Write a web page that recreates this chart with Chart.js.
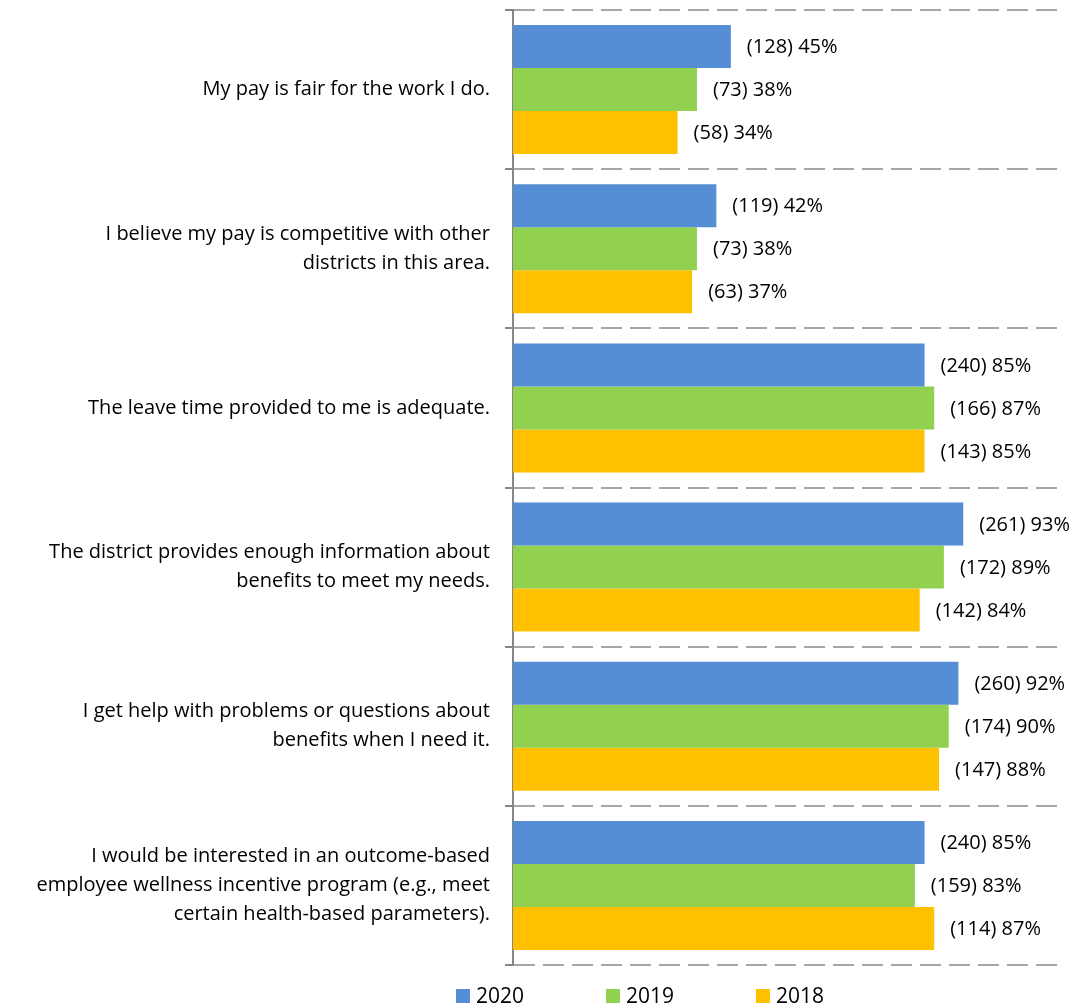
<!DOCTYPE html>
<html>
<head>
<meta charset="utf-8">
<script src="https://cdn.jsdelivr.net/npm/chart.js@4/dist/chart.umd.min.js"></script>
<style>
  html, body { margin: 0; padding: 0; background: #fff; }
  #wrap { width: 1076px; height: 1007px; }
</style>
</head>
<body>
<div id="wrap"><canvas id="benefits"></canvas></div>
<script>
var categories = [
  'My pay is fair for the work I do.',
  ['I believe my pay is competitive with other', 'districts in this area.'],
  'The leave time provided to me is adequate.',
  ['The district provides enough information about', 'benefits to meet my needs.'],
  ['I get help with problems or questions about', 'benefits when I need it.'],
  ['I would be interested in an outcome-based', 'employee wellness incentive program (e.g., meet', 'certain health-based parameters).']
]
var years = ['2020', '2019', '2018']

// percent agreeing, and number of respondents behind it
var pct2020 = [45, 42, 85, 93, 92, 85]
var pct2019 = [38, 38, 87, 89, 90, 83]
var pct2018 = [34, 37, 85, 84, 88, 87]
var n2020 = [128, 119, 240, 261, 260, 240]
var n2019 = [73, 73, 166, 172, 174, 159]
var n2018 = [58, 63, 143, 142, 147, 114]

var colors = ['#558ED5', '#92D050', '#FFC000']
var fontFamily = '"Open Sans"'

Chart.defaults.font.family = fontFamily
Chart.defaults.font.size = 20
Chart.defaults.color = '#000'

// "(n) pct%" written just past the end of each bar
var barLabels = {
  id: 'barLabels',
  afterDatasetsDraw: function (chart) {
    var ctx = chart.ctx
    ctx.save()
    ctx.font = '20px ' + fontFamily
    ctx.fillStyle = '#000'
    ctx.textAlign = 'left'
    ctx.textBaseline = 'middle'
    chart.data.datasets.forEach(function (ds, di) {
      chart.getDatasetMeta(di).data.forEach(function (bar, i) {
        ctx.fillText('(' + ds.counts[i] + ') ' + ds.data[i] + '%', bar.x + 16, bar.y + 1)
      })
    })
    ctx.restore()
  }
}

// legend row under the plot, squares spaced wide apart
var wideLegend = {
  id: 'wideLegend',
  afterDraw: function (chart) {
    var ctx = chart.ctx
    var area = chart.chartArea
    var x = area.left - 57
    var y = area.bottom + 31
    ctx.save()
    ctx.font = '21px ' + fontFamily
    ctx.textAlign = 'left'
    ctx.textBaseline = 'middle'
    chart.data.datasets.forEach(function (ds) {
      ctx.fillStyle = ds.backgroundColor
      ctx.fillRect(x, y - 7, 14, 14)
      ctx.fillStyle = '#000'
      ctx.fillText(ds.label, x + 20, y + 1)
      x += 150
    })
    ctx.restore()
  }
}

var canvas = document.getElementById('benefits')
var ctx = canvas.getContext('2d')

new Chart(ctx, {
  type: 'bar',
  data: {
    labels: categories,
    datasets: [
      { label: years[0], data: pct2020, counts: n2020, backgroundColor: colors[0] },
      { label: years[1], data: pct2019, counts: n2019, backgroundColor: colors[1] },
      { label: years[2], data: pct2018, counts: n2018, backgroundColor: colors[2] }
    ]
  },
  plugins: [barLabels, wideLegend],
  options: {
    indexAxis: 'y',
    responsive: true,
    maintainAspectRatio: false,
    animation: false,
    datasets: {
      bar: { categoryPercentage: 0.81, barPercentage: 1 }
    },
    layout: {
      padding: { top: 10, right: 13, bottom: 42, left: 0 }
    },
    plugins: {
      legend: { display: false },
      tooltip: { enabled: false }
    },
    scales: {
      x: {
        display: false,
        min: 0,
        max: 113.6
      },
      y: {
        afterFit: function (scale) {
          scale.width = 513
          scale.paddingTop = 0
          scale.paddingBottom = 0
        },
        grid: {
          offset: true,
          color: '#A6A6A6',
          lineWidth: 2,
          drawTicks: true,
          tickLength: 8,
          tickColor: '#868686',
          tickWidth: 2,
          tickBorderDash: []
        },
        // in v4 border.dash sets the dash of the grid lines
        border: { display: true, color: '#868686', width: 2, dash: [21, 8] },
        ticks: {
          padding: 15,
          font: { size: 20, lineHeight: 1.45 },
          color: '#000'
        }
      }
    }
  }
})
</script>
</body>
</html>
